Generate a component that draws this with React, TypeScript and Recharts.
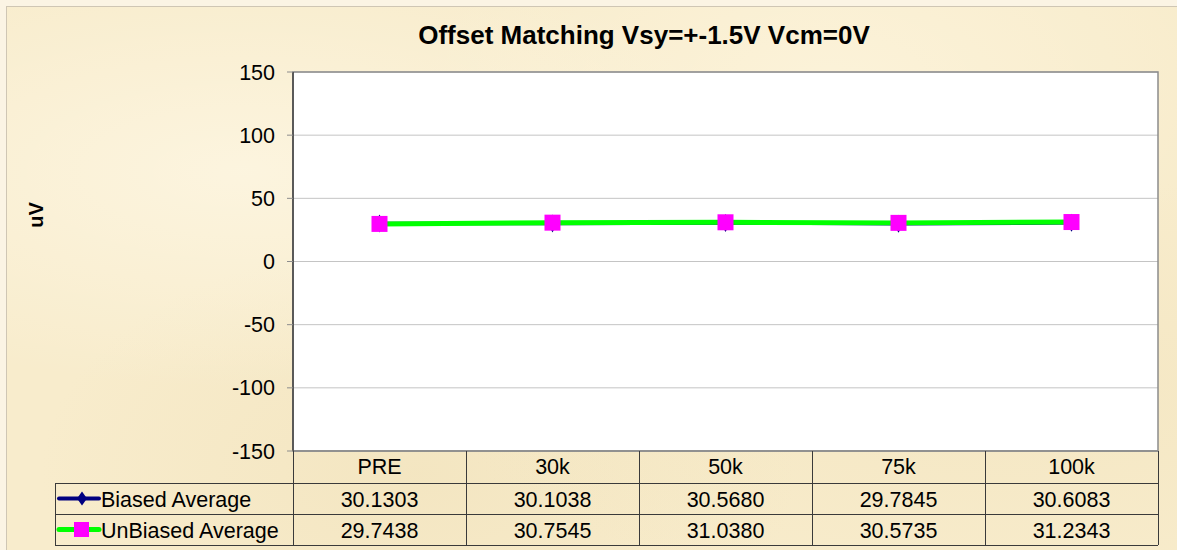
import React from 'react';
import { LineChart, Line, XAxis, YAxis, CartesianGrid, ReferenceArea } from 'recharts';

const categories = ['PRE', '30k', '50k', '75k', '100k'];
const biasedAverage = [30.1303, 30.1038, 30.568, 29.7845, 30.6083];
const unbiasedAverage = [29.7438, 30.7545, 31.038, 30.5735, 31.2343];
const yTicks = [-150, -100, -50, 0, 50, 100, 150];
const seriesNames = ['Biased Average', 'UnBiased Average'];
const chartTitle = 'Offset Matching Vsy=+-1.5V Vcm=0V';
const yAxisTitle = 'uV';

const data = categories.map((c, i) => ({ cat: c, biased: biasedAverage[i], unbiased: unbiasedAverage[i] }));

const FONT = '"Liberation Sans", Arial, sans-serif';
const NAVY = '#000080';
const GREEN = '#00FF00';
const MAGENTA = '#FF00FF';
const LINE = '#3a3a3a';
const FS = 21.5;

const Diamond = (p: any) => {
  const { cx, cy } = p;
  if (cx == null || cy == null) return <g key={p.key ?? p.index} />;
  return (
    <polygon
      key={p.key ?? `d${p.index}`}
      points={`${cx},${cy - 9} ${cx + 5},${cy} ${cx},${cy + 9} ${cx - 5},${cy}`}
      fill={NAVY}
    />
  );
};

const Square = (p: any) => {
  const { cx, cy } = p;
  if (cx == null || cy == null) return <g key={p.key ?? p.index} />;
  return <rect key={p.key ?? `s${p.index}`} x={cx - 8} y={cy - 8} width={16} height={16} fill={MAGENTA} />;
};

const TableTick = (props: any) => {
  const { x, y, payload, index } = props;
  const half = payload && payload.offset ? payload.offset : props.width / props.visibleTicksCount / 2;
  const left = x - half;
  const right = x + half;
  const r0 = y + 32;
  const r1 = y + 63;
  const r2 = y + 94;
  const i = index;
  const legendLeft = left - 238;
  const textStyle = { fontFamily: FONT, fontSize: FS, fill: '#000' } as any;
  return (
    <g shapeRendering="crispEdges">
      <line x1={right} y1={y} x2={right} y2={r2} stroke={LINE} />
      {i === 0 && <line x1={left} y1={y} x2={left} y2={r2} stroke={LINE} />}
      <line x1={i === 0 ? legendLeft : left} y1={r0} x2={right} y2={r0} stroke={LINE} />
      <line x1={i === 0 ? legendLeft : left} y1={r1} x2={right} y2={r1} stroke={LINE} />
      <line x1={i === 0 ? legendLeft : left} y1={r2} x2={right} y2={r2} stroke={LINE} />
      <text x={x} y={y + 16} textAnchor="middle" dominantBaseline="central" {...textStyle}>
        {payload.value}
      </text>
      <text x={x} y={(r0 + r1) / 2 + 1} textAnchor="middle" dominantBaseline="central" {...textStyle}>
        {biasedAverage[i].toFixed(4)}
      </text>
      <text x={x} y={(r1 + r2) / 2 + 1} textAnchor="middle" dominantBaseline="central" {...textStyle}>
        {unbiasedAverage[i].toFixed(4)}
      </text>
      {i === 0 && (
        <g>
          <line x1={legendLeft} y1={r0} x2={legendLeft} y2={r2} stroke={LINE} />
          <g shapeRendering="auto">
            <line x1={legendLeft + 4} y1={(r0 + r1) / 2} x2={legendLeft + 44} y2={(r0 + r1) / 2} stroke={NAVY} strokeWidth={4} strokeLinecap="round" />
            <polygon
              points={`${legendLeft + 27},${(r0 + r1) / 2 - 7} ${legendLeft + 32},${(r0 + r1) / 2} ${legendLeft + 27},${(r0 + r1) / 2 + 7} ${legendLeft + 22},${(r0 + r1) / 2}`}
              fill={NAVY}
            />
            <line x1={legendLeft + 4} y1={(r1 + r2) / 2} x2={legendLeft + 44} y2={(r1 + r2) / 2} stroke={GREEN} strokeWidth={5} strokeLinecap="round" />
            <rect x={legendLeft + 19} y={(r1 + r2) / 2 - 7.5} width={15} height={15} fill={MAGENTA} />
          </g>
          <text x={legendLeft + 46} y={(r0 + r1) / 2 + 1} textAnchor="start" dominantBaseline="central" {...textStyle}>
            {seriesNames[0]}
          </text>
          <text x={legendLeft + 46} y={(r1 + r2) / 2 + 1} textAnchor="start" dominantBaseline="central" {...textStyle}>
            {seriesNames[1]}
          </text>
        </g>
      )}
    </g>
  );
};

const parchment =
  'radial-gradient(ellipse at 20% 30%, rgba(255,250,235,0.6), rgba(255,250,235,0) 40%),' +
  'radial-gradient(ellipse at 70% 15%, rgba(255,248,228,0.55), rgba(255,248,228,0) 35%),' +
  'radial-gradient(ellipse at 85% 70%, rgba(240,225,185,0.45), rgba(240,225,185,0) 40%),' +
  'radial-gradient(ellipse at 35% 85%, rgba(238,222,180,0.45), rgba(238,222,180,0) 35%),' +
  '#F8ECCC';

export default function App() {
  return (
    <div style={{ position: 'absolute', left: 0, top: 0, width: 1177, height: 550, background: '#FBF4E4', overflow: 'hidden' }}>
      <div
        style={{
          position: 'absolute',
          left: 6,
          top: 6,
          width: 1175,
          height: 548,
          background: parchment,
          borderTop: '1px solid #CFC6B4',
          borderLeft: '1px solid #CFC6B4',
        }}
      />
      <div style={{ position: 'absolute', left: 0, top: 0 }}>
        <LineChart width={1177} height={550} data={data} margin={{ top: 72, right: 19, bottom: 0, left: 0 }}>
          <CartesianGrid vertical={false} stroke="#C4C4C4" fill="#FFFFFF" fillOpacity={1} />
          <ReferenceArea y1={-150} y2={150} fill="none" stroke="#8C8C8C" strokeWidth={1.5} ifOverflow="visible" />
          <XAxis
            dataKey="cat"
            scale="band"
            interval={0}
            height={99}
            tickSize={0}
            tickMargin={0}
            tickLine={false}
            axisLine={{ stroke: '#8C8C8C', strokeWidth: 1.5 }}
            tick={<TableTick />}
          />
          <YAxis
            type="number"
            domain={[-150, 150]}
            ticks={yTicks}
            width={293}
            tickSize={6}
            tickMargin={12}
            axisLine={{ stroke: '#404040', strokeWidth: 1.5 }}
            tickLine={{ stroke: '#8C8C8C' }}
            tick={{ fontFamily: FONT, fontSize: FS, fill: '#000' }}
          />
          <Line
            dataKey="biased"
            name={seriesNames[0]}
            stroke={NAVY}
            strokeWidth={3.5}
            dot={(p: any) => <Diamond {...p} key={`d${p.index}`} />}
            activeDot={false}
            isAnimationActive={false}
          />
          <Line
            dataKey="unbiased"
            name={seriesNames[1]}
            stroke={GREEN}
            strokeWidth={5}
            dot={(p: any) => <Square {...p} key={`s${p.index}`} />}
            activeDot={false}
            isAnimationActive={false}
          />
        </LineChart>
      </div>
      <svg width={1177} height={550} style={{ position: 'absolute', left: 0, top: 0, pointerEvents: 'none' }}>
        <text x={644} y={44} textAnchor="middle" fontFamily={FONT} fontWeight="bold" fontSize={26} fill="#000">
          {chartTitle}
        </text>
        <text
          x={36}
          y={215}
          textAnchor="middle"
          dominantBaseline="central"
          fontFamily={FONT}
          fontWeight="bold"
          fontSize={20}
          fill="#000"
          transform="rotate(-90, 36, 215)"
        >
          {yAxisTitle}
        </text>
      </svg>
    </div>
  );
}
